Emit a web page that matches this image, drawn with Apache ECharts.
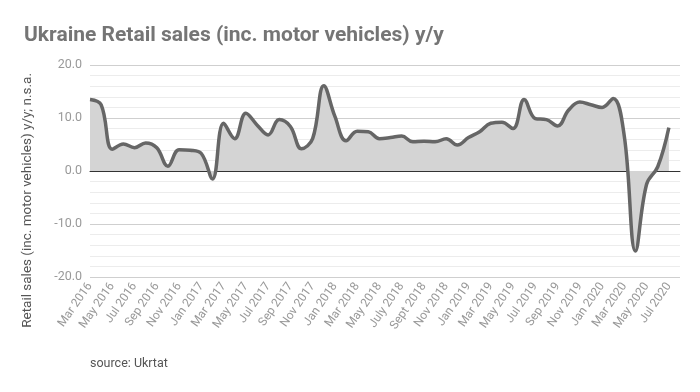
<!DOCTYPE html>
<html>
<head>
<meta charset="utf-8">
<script src="https://cdn.jsdelivr.net/npm/echarts@6/dist/echarts.min.js"></script>
<style>html,body{margin:0;padding:0;background:#fff;}#c{width:700px;height:392px;}</style>
</head>
<body>
<div id="c"></div>
<script>
const months = [
  "Mar 2016","Apr 2016","May 2016","Jun 2016","Jul 2016","Aug 2016","Sep 2016","Oct 2016","Nov 2016","Dec 2016",
  "Jan 2017","Feb 2017","Mar 2017","Apr 2017","May 2017","Jun 2017","Jul 2017","Aug 2017","Sep 2017","Oct 2017","Nov 2017","Dec 2017",
  "Jan 2018","Feb 2018","Mar 2018","Apr 2018","May 2018","Jun 2018","July 2018","Aug 2018","Sept 2018","Oct 2018","Nov 2018","Dec 2018",
  "Jan 2019","Feb 2019","Mar 2019","Apr 2019","May 2019","Jun 2019","Jul 2019","Aug 2019","Sep 2019","Oct 2019","Nov 2019","Dec 2019",
  "Jan 2020","Feb 2020","Mar 2020","Apr 2020","May 2020","Jun 2020","Jul 2020","Aug 2020"
];
const retailSales = [
  13.5, 12.5, 4.1, 5.1, 4.4, 5.3, 4.4, 0.9, 4.0, 3.9,
  3.3, -1.5, 9.0, 6.1, 10.9, 8.7, 6.8, 9.7, 8.4, 4.2, 6.1, 16.1,
  10.3, 5.7, 7.5, 7.4, 6.1, 6.3, 6.6, 5.5, 5.6, 5.5, 6.1, 4.9,
  6.3, 7.4, 9.0, 9.2, 8.0, 13.5, 9.9, 9.7, 8.5, 11.5, 13.0, 12.5,
  12.0, 13.7, 6.5, -15.1, -2.5, 0.8, 8.2
];
const yTicks = [-20, -10, 0, 10, 20];

const chart = echarts.init(document.getElementById('c'), null, {renderer: 'canvas'});
const font = 'Roboto, "Noto Sans", sans-serif';
chart.setOption({
  animation: false,
  textStyle: {fontFamily: font},
  title: {
    text: 'Ukraine Retail sales (inc. motor vehicles) y/y',
    left: 19, top: 20,
    textStyle: {fontSize: 21, fontWeight: 'bold', color: '#757575', fontFamily: font}
  },
  grid: {left: 90, right: 20, top: 65, bottom: 115, containLabel: false},
  xAxis: {
    type: 'category',
    data: months,
    boundaryGap: false,
    axisLine: {onZero: true, lineStyle: {color: '#333', width: 1}},
    axisTick: {show: false},
    axisLabel: {
      interval: 1, rotate: 55, fontSize: 12, color: '#999', margin: 7, fontFamily: font
    },
    splitLine: {show: false}
  },
  yAxis: {
    type: 'value',
    min: yTicks[0], max: yTicks[yTicks.length - 1], interval: 10,
    axisLine: {show: false},
    axisTick: {show: false},
    axisLabel: {fontSize: 12.5, color: '#999', margin: 8, formatter: v => v.toFixed(1), fontFamily: font},
    splitLine: {lineStyle: {color: '#cfcfcf', width: 1}},
    minorTick: {show: false, splitNumber: 5},
    minorSplitLine: {show: true, lineStyle: {color: '#ececec', width: 1}}
  },
  graphic: [
    {
      type: 'text', left: 21, top: 73, rotation: Math.PI / 2,
      style: {text: 'Retail sales (inc. motor vehicles) y/y; n.s.a.', fontSize: 13.5, fill: '#555', fontFamily: font}
    },
    {
      type: 'text', left: 90, top: 357,
      style: {text: 'source: Ukrtat', fontSize: 12.5, fill: '#555', fontFamily: font}
    }
  ],
  series: [{
    type: 'line',
    data: retailSales,
    smooth: 0.4,
    showSymbol: false,
    lineStyle: {color: '#666', width: 3.5},
    areaStyle: {color: '#d4d4d4', opacity: 1}
  }]
});
</script>
</body>
</html>
